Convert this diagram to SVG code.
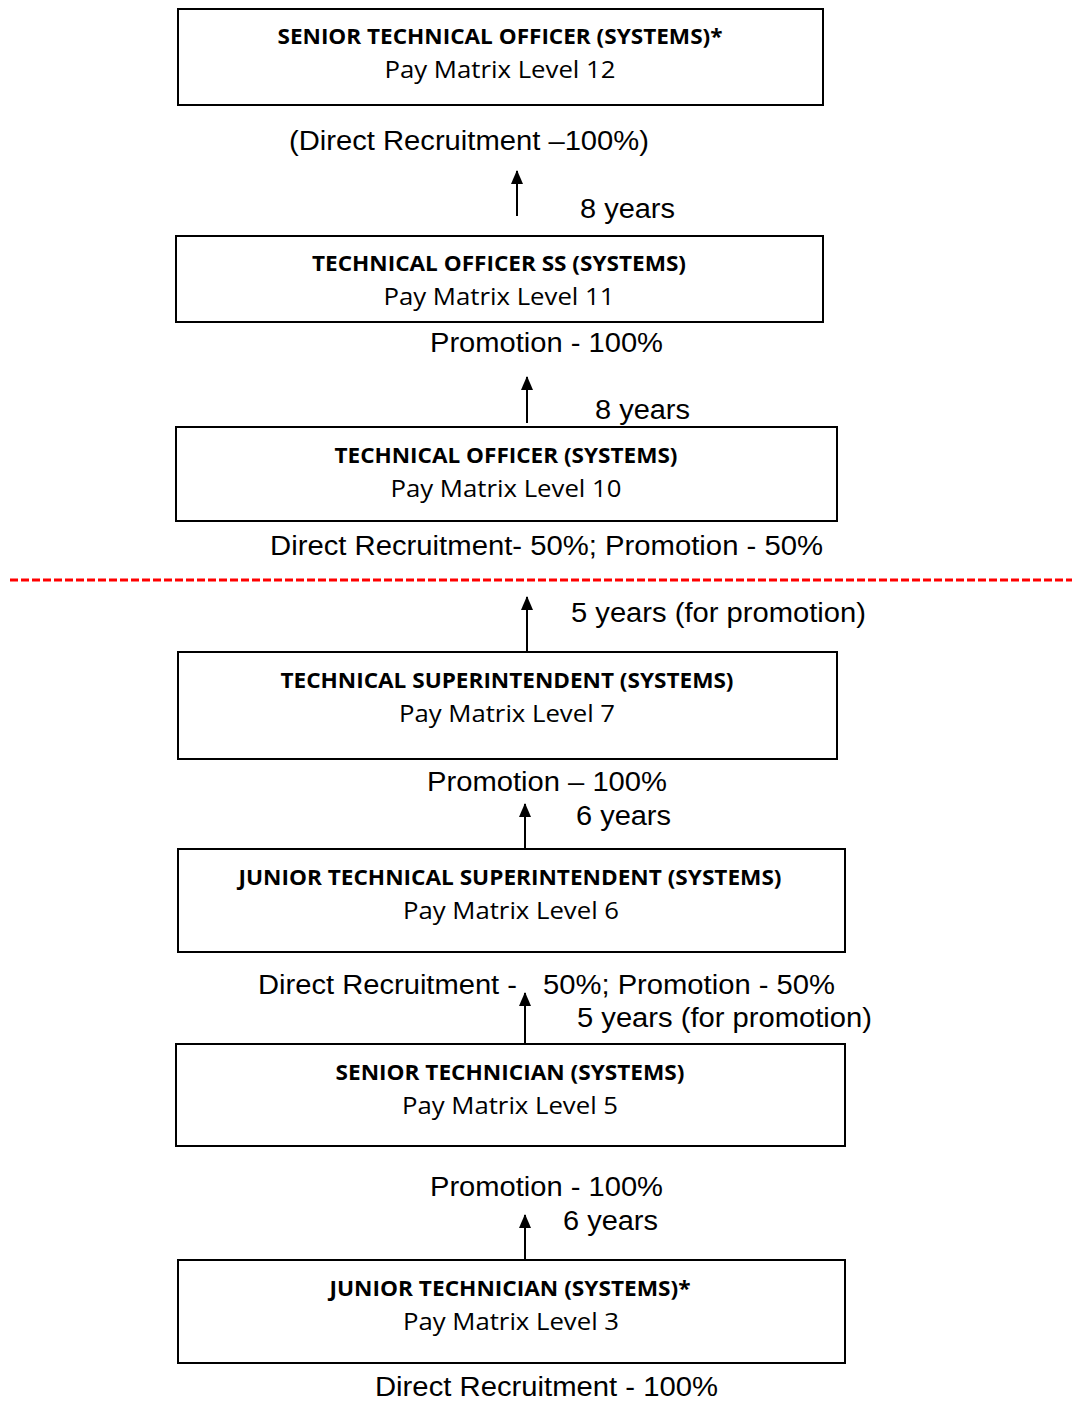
<svg xmlns="http://www.w3.org/2000/svg" width="1072" height="1401" viewBox="0 0 1072 1401">
<style>
.box{fill:#fff;stroke:#000;stroke-width:2}
.t1{font-family:"Open Sans","Liberation Sans",sans-serif;font-weight:bold;font-size:22px;text-anchor:middle;fill:#000}
.t2{font-family:"Open Sans","Liberation Sans",sans-serif;font-size:24px;text-anchor:middle;fill:#000}
.lbl{font-family:"Liberation Sans",Arial,sans-serif;font-size:27px;fill:#000}
.arr{stroke:#000;stroke-width:2;fill:none;marker-end:url(#ah)}
</style>
<defs>
<marker id="ah" markerWidth="12" markerHeight="14" refX="6" refY="1" orient="0" markerUnits="userSpaceOnUse" viewBox="0 0 12 14">
<path d="M0,14 L6,0 L12,14 Z" fill="#000"/>
</marker>
</defs>
<rect width="1072" height="1401" fill="#fff"/>
<g id="connectors">
<line class="arr" x1="517" y1="216" x2="517" y2="171"/>
<line class="arr" x1="527" y1="423" x2="527" y2="377"/>
<line class="arr" x1="527" y1="652" x2="527" y2="597"/>
<line class="arr" x1="525" y1="849" x2="525" y2="804"/>
<line class="arr" x1="525" y1="1044" x2="525" y2="993"/>
<line class="arr" x1="525" y1="1260" x2="525" y2="1215"/>
<line x1="10" y1="580" x2="1072" y2="580" stroke="#f00" stroke-width="3" stroke-dasharray="8,3"/>
</g>
<g id="n1">
<rect class="box" x="178" y="9" width="645" height="96"/>
<text class="t1" x="500" y="44" textLength="445" lengthAdjust="spacingAndGlyphs">SENIOR TECHNICAL OFFICER (SYSTEMS)*</text>
<text class="t2" x="500" y="78" textLength="231" lengthAdjust="spacingAndGlyphs">Pay Matrix Level 12</text>
</g>
<g id="n2">
<rect class="box" x="176" y="236" width="647" height="86"/>
<text class="t1" x="499" y="271" textLength="374" lengthAdjust="spacingAndGlyphs">TECHNICAL OFFICER SS (SYSTEMS)</text>
<text class="t2" x="499" y="305" textLength="231" lengthAdjust="spacingAndGlyphs">Pay Matrix Level 11</text>
</g>
<g id="n3">
<rect class="box" x="176" y="427" width="661" height="94"/>
<text class="t1" x="506" y="463" textLength="343" lengthAdjust="spacingAndGlyphs">TECHNICAL OFFICER (SYSTEMS)</text>
<text class="t2" x="506" y="497" textLength="231" lengthAdjust="spacingAndGlyphs">Pay Matrix Level 10</text>
</g>
<g id="n4">
<rect class="box" x="178" y="652" width="659" height="107"/>
<text class="t1" x="507" y="688" textLength="453" lengthAdjust="spacingAndGlyphs">TECHNICAL SUPERINTENDENT (SYSTEMS)</text>
<text class="t2" x="507" y="722" textLength="216" lengthAdjust="spacingAndGlyphs">Pay Matrix Level 7</text>
</g>
<g id="n5">
<rect class="box" x="178" y="849" width="667" height="103"/>
<text class="t1" x="510" y="885" textLength="543" lengthAdjust="spacingAndGlyphs">JUNIOR TECHNICAL SUPERINTENDENT (SYSTEMS)</text>
<text class="t2" x="511" y="919" textLength="216" lengthAdjust="spacingAndGlyphs">Pay Matrix Level 6</text>
</g>
<g id="n6">
<rect class="box" x="176" y="1044" width="669" height="102"/>
<text class="t1" x="510" y="1080" textLength="349" lengthAdjust="spacingAndGlyphs">SENIOR TECHNICIAN (SYSTEMS)</text>
<text class="t2" x="510" y="1114" textLength="216" lengthAdjust="spacingAndGlyphs">Pay Matrix Level 5</text>
</g>
<g id="n7">
<rect class="box" x="178" y="1260" width="667" height="103"/>
<text class="t1" x="510" y="1296" textLength="361" lengthAdjust="spacingAndGlyphs">JUNIOR TECHNICIAN (SYSTEMS)*</text>
<text class="t2" x="511" y="1330" textLength="216" lengthAdjust="spacingAndGlyphs">Pay Matrix Level 3</text>
</g>
<g id="labels">
<text class="lbl" x="289" y="150" textLength="360" lengthAdjust="spacingAndGlyphs">(Direct Recruitment –100%)</text>
<text class="lbl" x="580" y="218" textLength="95" lengthAdjust="spacingAndGlyphs">8 years</text>
<text class="lbl" x="430" y="352" textLength="233" lengthAdjust="spacingAndGlyphs">Promotion - 100%</text>
<text class="lbl" x="595" y="419" textLength="95" lengthAdjust="spacingAndGlyphs">8 years</text>
<text class="lbl" x="270" y="555" textLength="553" lengthAdjust="spacingAndGlyphs">Direct Recruitment- 50%; Promotion - 50%</text>
<text class="lbl" x="571" y="622" textLength="295" lengthAdjust="spacingAndGlyphs">5 years (for promotion)</text>
<text class="lbl" x="427" y="791" textLength="240" lengthAdjust="spacingAndGlyphs">Promotion – 100%</text>
<text class="lbl" x="576" y="825" textLength="95" lengthAdjust="spacingAndGlyphs">6 years</text>
<text class="lbl" y="994"><tspan x="258" textLength="259" lengthAdjust="spacingAndGlyphs">Direct Recruitment -</tspan><tspan x="543" textLength="292" lengthAdjust="spacingAndGlyphs">50%; Promotion - 50%</tspan></text>
<text class="lbl" x="577" y="1027" textLength="295" lengthAdjust="spacingAndGlyphs">5 years (for promotion)</text>
<text class="lbl" x="430" y="1196" textLength="233" lengthAdjust="spacingAndGlyphs">Promotion - 100%</text>
<text class="lbl" x="563" y="1230" textLength="95" lengthAdjust="spacingAndGlyphs">6 years</text>
<text class="lbl" x="375" y="1396" textLength="343" lengthAdjust="spacingAndGlyphs">Direct Recruitment - 100%</text>
</g>
</svg>
